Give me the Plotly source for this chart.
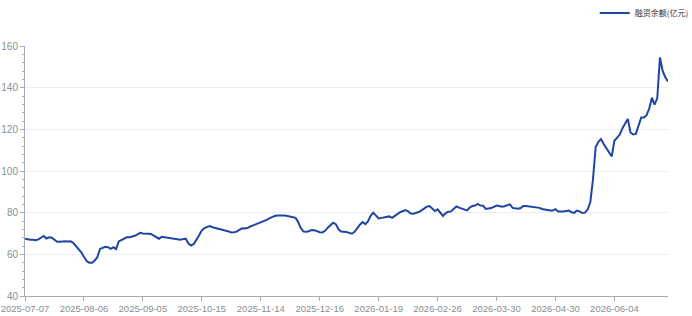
import pandas as pd
import plotly.graph_objects as go

# ---- data ----
START_DATE = "2025-07-07"
END_DATE = "2026-07-03"
HOLIDAYS = [
    "2025-10-01", "2025-10-02", "2025-10-03", "2025-10-06", "2025-10-07", "2025-10-08",
    "2026-01-01", "2026-01-02",
    "2026-02-16", "2026-02-17", "2026-02-18", "2026-02-19", "2026-02-20", "2026-02-23",
    "2026-04-06",
    "2026-05-01", "2026-05-04", "2026-05-05",
    "2026-06-19",
]
TICK_LABELS = ["2025-07-07", "2025-08-06", "2025-09-05", "2025-10-15", "2025-11-14",
               "2025-12-16", "2026-01-19", "2026-02-26", "2026-03-30", "2026-04-30",
               "2026-06-04"]
SERIES_NAME = "融资余额(亿元)"
margin_balance = [
    67.5, 67.2, 67.0, 67.0, 66.8, 67.2, 68.0, 68.8, 67.6, 68.2,
    68.0, 66.8, 66.0, 66.0, 66.2, 66.3, 66.2, 66.3, 65.5, 64.0,
    62.6, 61.0, 58.8, 56.8, 56.0, 56.0, 57.0, 58.6, 62.6, 63.3,
    63.6, 63.4, 62.6, 63.4, 62.5, 66.2, 66.9, 67.8, 68.2, 68.2,
    68.5, 68.9, 69.6, 70.3, 70.0, 69.8, 69.9, 69.8, 69.0, 68.0,
    67.5, 68.4, 68.2, 67.8, 67.6, 67.5, 67.4, 67.3, 67.0, 67.3,
    67.5, 65.2, 64.2, 65.0, 66.8, 69.2, 71.5, 72.6, 73.2, 73.6,
    73.0, 72.6, 72.3, 72.0, 71.7, 71.3, 71.0, 70.5, 70.6, 70.9,
    71.8, 72.5, 72.4, 72.6, 73.3, 73.8, 74.1, 74.6, 75.1, 75.8,
    76.4, 77.1, 77.8, 78.3, 78.6, 78.7, 78.6, 78.6, 78.4, 78.2,
    78.0, 77.5, 75.4, 72.5, 70.9, 70.8, 71.1, 71.7, 71.6, 71.0,
    70.6, 70.5, 71.3, 72.8, 74.2, 75.2, 74.5, 72.0, 71.0, 70.9,
    70.7, 70.3, 69.9, 70.8, 72.8, 74.2, 75.5, 74.5, 75.8, 78.5,
    80.0, 78.6, 77.2, 77.5, 77.8, 78.0, 78.2, 77.5, 78.2, 79.3,
    80.2, 80.7, 81.2, 80.6, 79.6, 79.5, 79.8, 80.3, 81.1, 82.0,
    82.9, 83.2, 82.0, 80.8, 81.6, 80.2, 78.4, 79.8, 80.4, 80.6,
    81.8, 83.0, 82.4, 81.9, 81.5, 81.1, 82.5, 83.2, 83.4, 84.2,
    83.4, 83.3, 81.8, 81.9, 82.2, 82.8, 83.4, 83.2, 82.8, 83.1,
    83.4, 84.0, 82.3, 82.0, 81.9, 82.2, 83.2, 83.2, 83.0, 82.9,
    82.8, 82.7, 82.3, 81.8, 81.5, 81.2, 81.1, 81.1, 81.7, 80.6,
    80.5, 80.6, 80.8, 81.0, 80.2, 79.9, 81.0, 80.6, 79.8, 80.0,
    81.5, 85.0, 96.0, 111.5, 114.0, 115.3, 113.0, 111.0, 109.0, 107.0,
    114.5, 116.0, 117.5, 120.5, 123.0, 125.0, 118.5, 117.5, 117.8, 122.0,
    125.7, 125.7, 126.8, 130.0, 135.2, 131.8, 135.0, 154.5, 148.0, 145.0,
    143.0,
]

# trading-day categories
days = pd.bdate_range(START_DATE, END_DATE)
days = [d.strftime("%Y-%m-%d") for d in days if d.strftime("%Y-%m-%d") not in HOLIDAYS]
dates = days[:len(margin_balance)]

LINE_COLOR = "#1f44a6"
AXIS_COLOR = "#a8abb3"
LABEL_COLOR = "#8a8d94"
GRID_COLOR = "#eceef7"
TICK_FONT = "Liberation Sans, Arial, sans-serif"
CJK_FONT = "Noto Sans CJK SC, sans-serif"

fig = go.Figure()
fig.add_trace(go.Scatter(
    x=dates, y=margin_balance, mode="lines", name=SERIES_NAME,
    line=dict(color=LINE_COLOR, width=2),
))

fig.update_layout(
    width=692, height=316,
    margin=dict(l=25, r=24, t=46, b=20, autoexpand=False),
    paper_bgcolor="white", plot_bgcolor="white",
    font=dict(family=TICK_FONT, size=10, color=LABEL_COLOR),
    showlegend=True,
    legend=dict(
        orientation="h", xref="paper", x=1.040, xanchor="right",
        yref="paper", y=1.132, yanchor="middle",
        font=dict(family=CJK_FONT, size=8, color="#333333"),
        itemwidth=30, bgcolor="rgba(0,0,0,0)",
    ),
    xaxis=dict(
        type="category", range=[0, len(dates) - 1], automargin=False,
        tickmode="array", tickvals=TICK_LABELS, ticktext=TICK_LABELS,
        showgrid=False, zeroline=False,
        showline=True, linecolor=AXIS_COLOR, linewidth=1,
        ticks="outside", ticklen=4, tickcolor=AXIS_COLOR,
        tickfont=dict(family=TICK_FONT, size=9.5, color=LABEL_COLOR),
        tickangle=0,
    ),
    yaxis=dict(
        range=[40, 160], tickmode="linear", tick0=40, dtick=20, automargin=False,
        showgrid=True, gridcolor=GRID_COLOR, gridwidth=1, zeroline=False,
        showline=True, linecolor=AXIS_COLOR, linewidth=1,
        ticks="outside", ticklen=4, tickcolor=AXIS_COLOR,
        tickfont=dict(family=TICK_FONT, size=10, color=LABEL_COLOR),
        minor=dict(dtick=4, ticks="outside", ticklen=2, tickcolor=AXIS_COLOR, showgrid=False),
    ),
)

fig.write_html("out.html")
